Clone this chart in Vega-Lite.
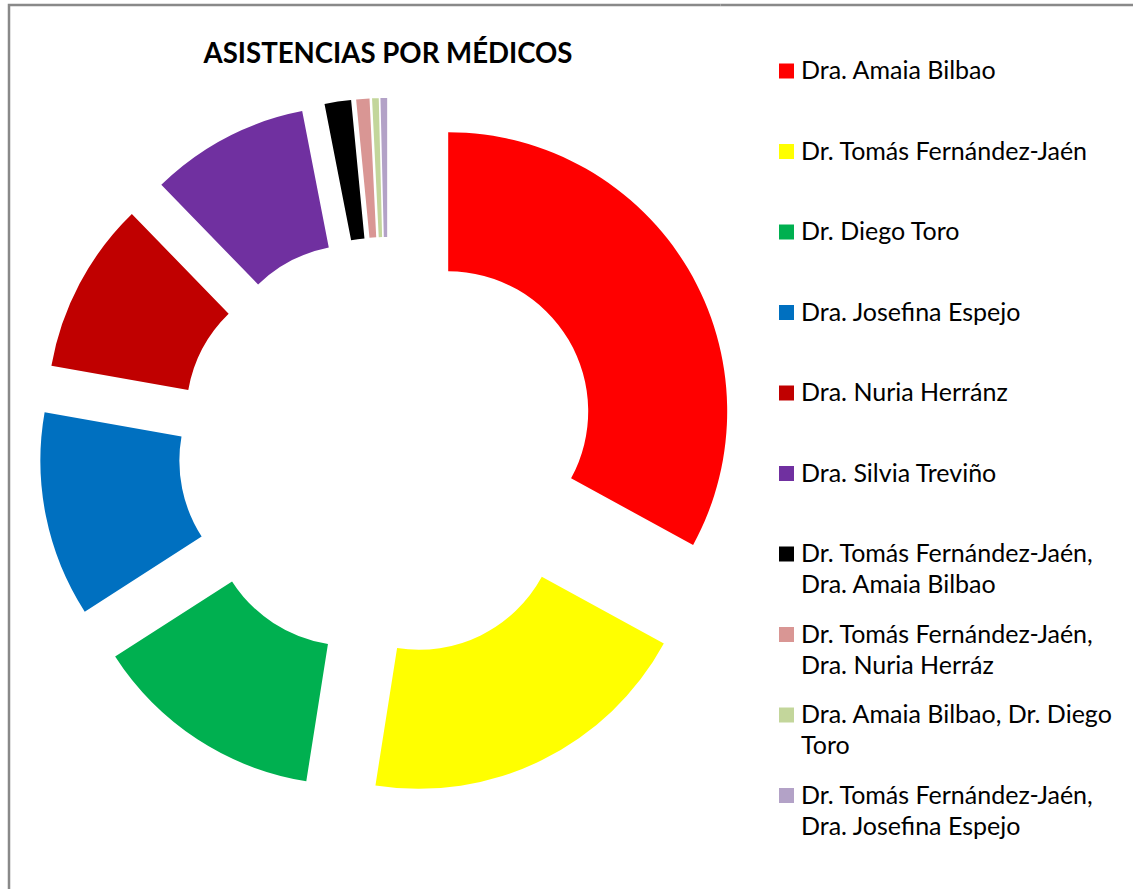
{
  "$schema": "https://vega.github.io/schema/vega-lite/v6.json",
  "width": 758,
  "height": 884,
  "autosize": {"type": "none"},
  "padding": {"left": 9, "top": 5, "right": 366, "bottom": 0},
  "background": "white",
  "view": {"stroke": "#898989", "strokeWidth": 2.5, "strokeDash": [711.5, 1688.5, 884]},
  "config": {
    "font": "Lato",
    "style": {"guide-label": {"lineHeight": 31}},
    "legend": {"strokeColor": "#898989", "strokeWidth": 2.5, "strokeDash": [600, 5000]}
  },
  "title": {
    "text": "ASISTENCIAS POR MÉDICOS",
    "font": "Lato",
    "fontSize": 27.6,
    "fontWeight": "bold",
    "color": "black",
    "anchor": "middle",
    "frame": "group",
    "orient": "top",
    "baseline": "alphabetic",
    "offset": -86.5
  },
  "data": {
    "values": [
      {"orden": 1, "medico": "Dra. Amaia Bilbao", "asistencias": 86},
      {"orden": 2, "medico": "Dr. Tomás Fernández-Jaén", "asistencias": 51},
      {"orden": 3, "medico": "Dr. Diego Toro", "asistencias": 35},
      {"orden": 4, "medico": "Dra. Josefina Espejo", "asistencias": 31},
      {"orden": 5, "medico": "Dra. Nuria Herránz", "asistencias": 26},
      {"orden": 6, "medico": "Dra. Silvia Treviño", "asistencias": 24},
      {"orden": 7, "medico": "Dr. Tomás Fernández-Jaén, Dra. Amaia Bilbao", "asistencias": 4},
      {"orden": 8, "medico": "Dr. Tomás Fernández-Jaén, Dra. Nuria Herráz", "asistencias": 2},
      {"orden": 9, "medico": "Dra. Amaia Bilbao, Dr. Diego Toro", "asistencias": 1},
      {"orden": 10, "medico": "Dr. Tomás Fernández-Jaén, Dra. Josefina Espejo", "asistencias": 1}
    ]
  },
  "mark": {
    "type": "arc",
    "outerRadius": 279,
    "innerRadius": 140,
    "xOffset": {"expr": "70*sin(scale('theta', (datum.asistencias_start + datum.asistencias_end)/2))"},
    "yOffset": {"expr": "-70*cos(scale('theta', (datum.asistencias_start + datum.asistencias_end)/2))"}
  },
  "encoding": {
    "theta": {"field": "asistencias", "type": "quantitative", "stack": true},
    "order": {"field": "orden", "type": "quantitative"},
    "color": {
      "field": "medico",
      "type": "nominal",
      "sort": null,
      "scale": {
        "domain": [
          "Dra. Amaia Bilbao",
          "Dr. Tomás Fernández-Jaén",
          "Dr. Diego Toro",
          "Dra. Josefina Espejo",
          "Dra. Nuria Herránz",
          "Dra. Silvia Treviño",
          "Dr. Tomás Fernández-Jaén, Dra. Amaia Bilbao",
          "Dr. Tomás Fernández-Jaén, Dra. Nuria Herráz",
          "Dra. Amaia Bilbao, Dr. Diego Toro",
          "Dr. Tomás Fernández-Jaén, Dra. Josefina Espejo"
        ],
        "range": ["#FF0000", "#FFFF00", "#00B050", "#0070C0", "#C00000", "#7030A0", "#000000", "#D99694", "#C3D69B", "#B3A2C7"]
      },
      "legend": {
        "orient": "none",
        "legendX": 711.5,
        "legendY": 0,
        "title": null,
        "padding": 53.5,
        "strokeColor": "#898989",
        "symbolType": "square",
        "symbolSize": 225,
        "symbolStrokeWidth": 0,
        "labelFont": "Lato",
        "labelFontSize": 25,
        "labelColor": "black",
        "labelLimit": 400,
        "labelOffset": 2,
        "labelBaseline": "middle",
        "rowPadding": 23.5,
        "labelExpr": "datum.label == 'Dra. Amaia Bilbao, Dr. Diego Toro' ? ['Dra. Amaia Bilbao, Dr. Diego', 'Toro'] : indexof(datum.label, ', ') > 0 ? [slice(datum.label, 0, indexof(datum.label, ', ') + 1), slice(datum.label, indexof(datum.label, ', ') + 2)] : [datum.label, '']"
      }
    }
  }
}
